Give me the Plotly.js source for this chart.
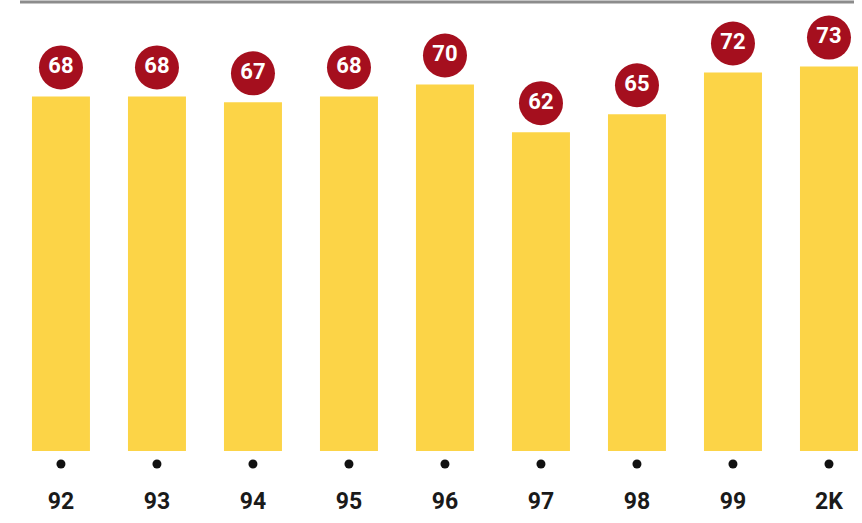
<!DOCTYPE html>
<html>
<head>
<meta charset="utf-8">
<script src="https://cdn.plot.ly/plotly-3.0.1.min.js"></script>
<style>html,body{margin:0;padding:0;background:#fff;}#chart{width:862px;height:523px;}</style>
</head>
<body>
<div id="chart"></div>
<script>
const categories = ["92", "93", "94", "95", "96", "97", "98", "99", "2K"];
const values = [68, 68, 67, 68, 70, 62, 65, 72, 73];

const FONT = "Roboto, 'Liberation Sans', sans-serif";
const H = 523, TOP = 2, BASE = 451;
const paperH = H - TOP;
const pxPerUnit = 5.96;
const yLo = 8.5, plotH = BASE - TOP;
const yHi = yLo + plotH / pxPerUnit;
const bubbleLift = 29 / pxPerUnit;
const mainDomain = [(H - BASE) / paperH, 1];
const dotDomain = [0, (H - BASE) / paperH];
const dotBelow = 13; // px below baseline

const bars = {
  type: 'bar', x: categories, y: values,
  marker: {color: '#FCD447', line: {width: 0}},
  hoverinfo: 'skip', yaxis: 'y'
};
const bubbles = {
  type: 'scatter', mode: 'markers+text', x: categories, y: values,
  text: values.map(String), textposition: 'middle center',
  textfont: {family: FONT, size: 22, color: '#ffffff', weight: 'bold'},
  marker: {size: 44, color: '#A50F1E', line: {width: 0}},
  cliponaxis: false, hoverinfo: 'skip', yaxis: 'y2'
};
const dots = {
  type: 'scatter', mode: 'markers', x: categories, y: categories.map(() => 0),
  marker: {size: 9, color: '#111111'},
  hoverinfo: 'skip', yaxis: 'y3'
};

const layout = {
  width: 862, height: H,
  margin: {l: 0, r: 0, t: TOP, b: 0},
  paper_bgcolor: '#ffffff', plot_bgcolor: '#ffffff',
  showlegend: false,
  bargap: 0.396,
  xaxis: {
    type: 'category', range: [-0.635, 8.344], fixedrange: true, anchor: 'y',
    showgrid: false, zeroline: false, showline: false, ticks: '',
    ticklabelstandoff: 34,
    tickfont: {family: FONT, size: 23, color: '#1a1a1a', weight: 'bold'}
  },
  yaxis: {domain: mainDomain, range: [yLo, yHi], visible: false, fixedrange: true},
  yaxis2: {domain: mainDomain, range: [yLo - bubbleLift, yHi - bubbleLift], overlaying: 'y', visible: false, fixedrange: true},
  yaxis3: {domain: dotDomain, range: [-(H - BASE - dotBelow), dotBelow], anchor: 'x', visible: false, fixedrange: true},
  shapes: [{
    type: 'line', xref: 'paper', yref: 'paper',
    x0: 20 / 862, x1: 854 / 862, y0: 1, y1: 1,
    line: {color: '#8c8c8c', width: 3}
  }]
};

Plotly.newPlot('chart', [bars, bubbles, dots], layout, {displayModeBar: false, staticPlot: true});
</script>
</body>
</html>
